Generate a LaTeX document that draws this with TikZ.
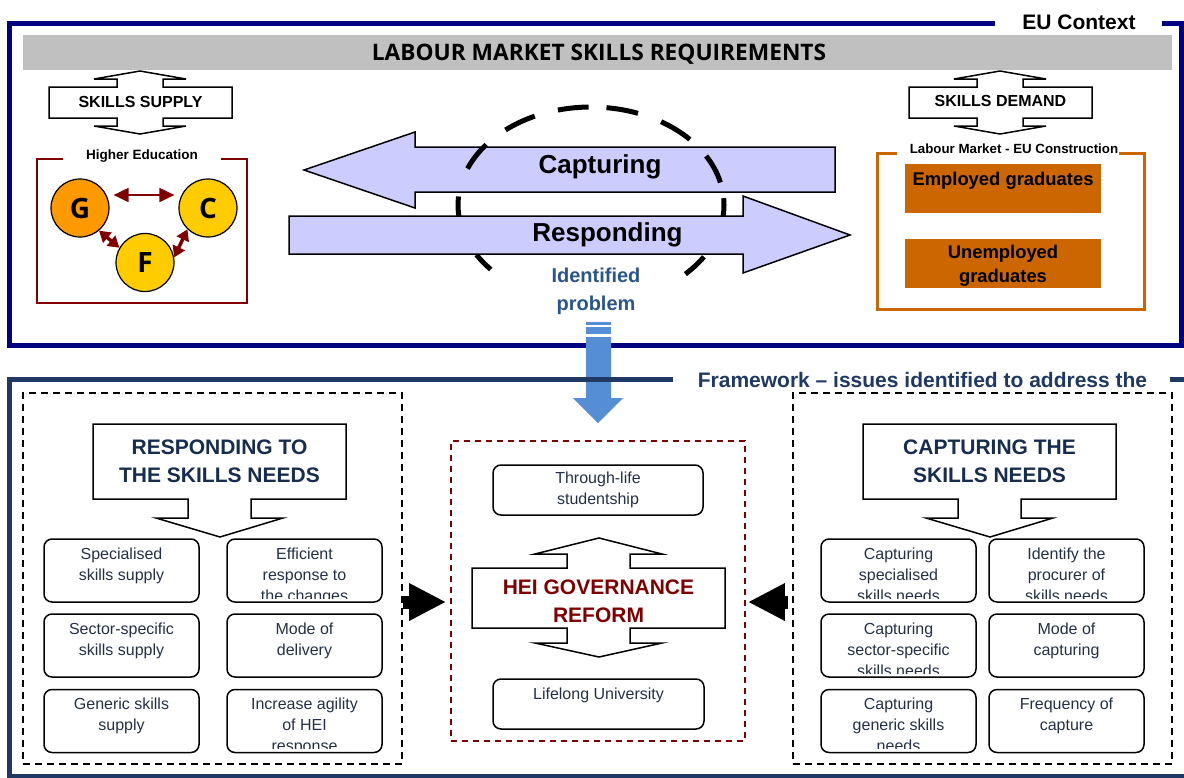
\documentclass[tikz,border=0pt]{standalone}
\usepackage{fontspec}
\setmainfont{Liberation Sans}
\newfontfamily\osans{Open Sans}
\usetikzlibrary{arrows.meta}
\definecolor{eunavy}{RGB}{0,0,128}
\definecolor{fwnavy}{RGB}{31,56,100}
\definecolor{barg}{RGB}{192,192,192}
\definecolor{lav}{RGB}{204,204,255}
\definecolor{dred}{RGB}{128,0,0}
\definecolor{gorange}{RGB}{255,153,0}
\definecolor{cyell}{RGB}{255,204,0}
\definecolor{lmorange}{RGB}{204,102,0}
\definecolor{idblue}{RGB}{41,84,140}
\definecolor{blarrow}{RGB}{85,142,213}
\definecolor{ttl}{RGB}{23,45,80}
\definecolor{btxt}{RGB}{35,48,70}
\newcommand\fsz[2]{\fontsize{#1}{#2}\selectfont}
\newcommand\clipbx[4]{%
  \node[rbox] (#1) at (#2,#3) {};
  \begin{scope}
    \clip (#2-77,#3-31) rectangle (#2+77,#3+27.5);
    \node[btext, anchor=north] (#1t) at (#2,#3-26.2) {\strut #4};
  \end{scope}}
\tikzset{
  rbox/.style={draw, line width=1.5pt, rounded corners=8pt, minimum width=155pt, minimum height=63pt, inner sep=0pt},
  btext/.style={font=\fsz{16}{21}, text=btxt, align=center, inner sep=0pt},
  callout/.style={draw, line width=1.5pt, fill=white, line join=miter},
  ttltext/.style={font=\bfseries\fsz{21}{28}, text=ttl, align=center, inner sep=0pt},
  gcirc/.style={circle, draw, line width=1.2pt, minimum size=58pt, inner sep=0pt, font=\osans\bfseries\fsz{28}{28}},
  redarr/.style={dred, line width=2pt, {Triangle[length=15pt,width=14pt]}-{Triangle[length=15pt,width=14pt]}},
  redarrs/.style={dred, line width=3.5pt, {Triangle[length=11pt,width=13pt]}-{Triangle[length=11pt,width=13pt]}},
  blkarr/.style={line width=13pt, -{Triangle[length=37pt,width=35pt]}},
  dbox/.style={draw, dashed, dash pattern=on 7pt off 5pt, line width=1.5pt, inner sep=0pt},
  bigarrow/.style={fill=lav, draw, line width=1.5pt, line join=miter},
  elldash/.style={line width=5pt, line cap=butt}
}
\begin{document}
\begin{tikzpicture}[x=1pt,y=-1pt]
\useasboundingbox (0,0) rectangle (1184,777);
% ---------- EU frame ----------
\draw[eunavy, line width=5pt] (995,23) -- (9.5,23) -- (9.5,345.5) -- (1181,345.5) -- (1181,23) -- (1162,23);
\node[font=\bfseries\fsz{21}{21}, anchor=base, inner sep=0pt] (eu) at (1079,29) {EU Context};
% title bar
\node[fill=barg, minimum width=1149pt, minimum height=35pt, inner sep=0pt] (bar) at (597.5,52.5) {};
\node[font=\osans\bfseries\fsz{22.7}{22.7}, anchor=base, inner sep=0pt] (bart) at (599,60.5) {LABOUR MARKET SKILLS REQUIREMENTS};
% supply / demand callouts
\draw[callout] (140,71) -- (186,79) -- (163,79) -- (163,87) -- (232,87) -- (232,118) -- (163,118) -- (163,126) -- (186,126) -- (140,134) -- (94,126) -- (117,126) -- (117,118) -- (49,118) -- (49,87) -- (117,87) -- (117,79) -- (94,79) -- cycle;
\node[font=\bfseries\fsz{16}{16}, anchor=base, inner sep=0pt] (supply) at (140.5,107.3) {SKILLS SUPPLY};
\draw[callout] (1000,71) -- (1046,79) -- (1023,79) -- (1023,87) -- (1092,87) -- (1092,118) -- (1023,118) -- (1023,126) -- (1046,126) -- (1000,134) -- (954,126) -- (977,126) -- (977,118) -- (909,118) -- (909,87) -- (977,87) -- (977,79) -- (954,79) -- cycle;
\node[font=\bfseries\fsz{16}{16}, anchor=base, inner sep=0pt] (demand) at (1000.5,106.7) {SKILLS DEMAND};
% Higher education
\draw[dred, line width=2pt] (63,159) -| (37,303) -| (247,159) -- (221,159);
\node[font=\bfseries\fsz{13.5}{13.5}, anchor=base, inner sep=0pt] (he) at (142,159.3) {Higher Education};
\node[gcirc, fill=gorange] (G) at (80,208) {G};
\node[gcirc, fill=cyell] (C) at (208,208) {C};
\node[gcirc, fill=cyell] (F) at (145,262.5) {F};
\draw[redarr, shorten <=4pt, shorten >=4pt] ([yshift=13pt]G.east) -- ([yshift=13pt]C.west);
\draw[redarrs] (G.-50) -- (F.150);
\draw[redarrs] (F.10) -- (C.-134);
% Labour market
\draw[lmorange, line width=3pt] (897,153) -| (877,309) -| (1144,153) -- (1119,153);
\node[font=\bfseries\fsz{13.3}{13.3}, anchor=base, inner sep=0pt] (lm) at (1014,153.3) {Labour Market - EU Construction};
\node[fill=lmorange, minimum width=196pt, minimum height=49pt, inner sep=0pt] (emp) at (1003,188.5) {};
\node[font=\bfseries\fsz{18.4}{24}, anchor=base, inner sep=0pt] (empt) at (1003,185) {Employed graduates};
\node[fill=lmorange, minimum width=196pt, minimum height=49pt, inner sep=0pt] (unemp) at (1003,263.5) {};
\node[font=\bfseries\fsz{18.4}{24}, align=center, anchor=north, inner sep=0pt] (unempt) at (1003,245.3) {Unemployed\\graduates};
% capturing / responding arrows
\draw[bigarrow] (304,170) -- (415,132) -- (415,147) -- (835,147) -- (835,192) -- (415,192) -- (415,208) -- cycle;
\node[font=\bfseries\fsz{26}{26}, anchor=base, inner sep=0pt] (capt) at (600,173) {Capturing};
\coordinate (ec) at (591,205);
\foreach \a/\b in {230/245, 255.6/269, 276.7/290.7, 301.8/318, 330/346.7, 356/372, 391.9/404.8, 498.9/509.5, 532/545, 561.8/578}
  \draw[elldash] (ec) ++(\a:133 and 98) arc[start angle=\a, end angle=\b, x radius=133, y radius=98];
\draw[bigarrow] (289,216) -- (743,216) -- (743,196) -- (850,235) -- (743,273) -- (743,254) -- (289,254) -- cycle;
\node[font=\bfseries\fsz{26}{26}, anchor=base, inner sep=0pt] (resp) at (607.5,241.5) {Responding};
\node[font=\bfseries\fsz{20}{27.5}, text=idblue, align=center, anchor=north, inner sep=0pt] (idp) at (596,268) {Identified\\problem};
% blue arrow
\fill[blarrow] (586,321.5) rectangle (611,325);
\fill[blarrow] (586,327) rectangle (611,334);
\fill[blarrow] (586,337) -- (611,337) -- (611,398) -- (623,398) -- (598,423) -- (573,398) -- (586,398) -- cycle;
% ---------- Framework frame ----------
\draw[fwnavy, line width=4.5pt] (673,379.5) -- (9.5,379.5) -- (9.5,776) -- (1190,776) -- (1190,379.5) -- (1170,379.5);
\node[font=\bfseries\fsz{21}{21}, text=fwnavy, anchor=base, inner sep=0pt] (fw) at (922.5,387) {Framework -- issues identified to address the};
% dashed boxes
\node[dbox, minimum width=379pt, minimum height=371pt] (ldash) at (212.5,578.5) {};
\node[dbox, minimum width=379pt, minimum height=371pt] (rdash) at (982.5,578.5) {};
\node[dbox, draw=dred, dash pattern=on 6pt off 5pt, line width=1.8pt, minimum width=294pt, minimum height=300pt] (cbox) at (598,591) {};
% responding callout
\draw[callout] (93,424) -- (346,424) -- (346,499) -- (251,499) -- (251,518) -- (283,518) -- (220,537) -- (156,518) -- (188,518) -- (188,499) -- (93,499) -- cycle;
\node[ttltext, anchor=north] (rtitle) at (219.5,439.5) {RESPONDING TO\\THE SKILLS NEEDS};
% capturing callout
\draw[callout] (863,424) -- (1116,424) -- (1116,499) -- (1021,499) -- (1021,518) -- (1053,518) -- (990,537) -- (926,518) -- (958,518) -- (958,499) -- (863,499) -- cycle;
\node[ttltext, anchor=north] (ctitle) at (989.5,439.5) {CAPTURING THE\\SKILLS NEEDS};
% left boxes
\clipbx{L11}{121.5}{570.5}{Specialised\\skills supply}
\clipbx{L12}{304.5}{570.5}{Efficient\\response to\\the changes}
\clipbx{L21}{121.5}{645.5}{Sector-specific\\skills supply}
\clipbx{L22}{304.5}{645.5}{Mode of\\delivery}
\clipbx{L31}{121.5}{721}{Generic skills\\supply}
\clipbx{L32}{304.5}{721}{Increase agility\\of HEI\\response}
% right boxes
\clipbx{R11}{898.5}{570.5}{Capturing\\specialised\\skills needs}
\clipbx{R12}{1066.5}{570.5}{Identify the\\procurer of\\skills needs}
\clipbx{R21}{898.5}{645.5}{Capturing\\sector-specific\\skills needs}
\clipbx{R22}{1066.5}{645.5}{Mode of\\capturing}
\clipbx{R31}{898.5}{721}{Capturing\\generic skills\\needs}
\clipbx{R32}{1066.5}{721}{Frequency of\\capture}
% center
\node[rbox, minimum width=210pt, minimum height=50pt] (thr) at (598,490) {};
\node[btext, anchor=north] (thrt) at (598,468.8) {\strut Through-life\\studentship};
\draw[callout] (472,568) -- (567,568) -- (567,554) -- (535,554) -- (599,538) -- (662,554) -- (630,554) -- (630,568) -- (725,568) -- (725,628) -- (630,628) -- (630,643) -- (662,643) -- (599,657) -- (535,643) -- (567,643) -- (567,628) -- (472,628) -- cycle;
\node[ttltext, text=dred, anchor=north] (hei) at (598.5,579.5) {HEI GOVERNANCE\\REFORM};
\node[rbox, minimum width=211pt, minimum height=50pt] (life) at (598.5,704) {};
\node[btext, anchor=north] (lifet) at (598.5,684.3) {\strut Lifelong University};
% black arrows
\coordinate (arow) at (0,602);
\draw[blkarr, shorten >=4pt] (ldash.east |- arow) -- (cbox.west |- arow);
\draw[blkarr, shorten <=4pt, shorten >=2pt] (rdash.west |- arow) -- (cbox.east |- arow);
\end{tikzpicture}
\end{document}
